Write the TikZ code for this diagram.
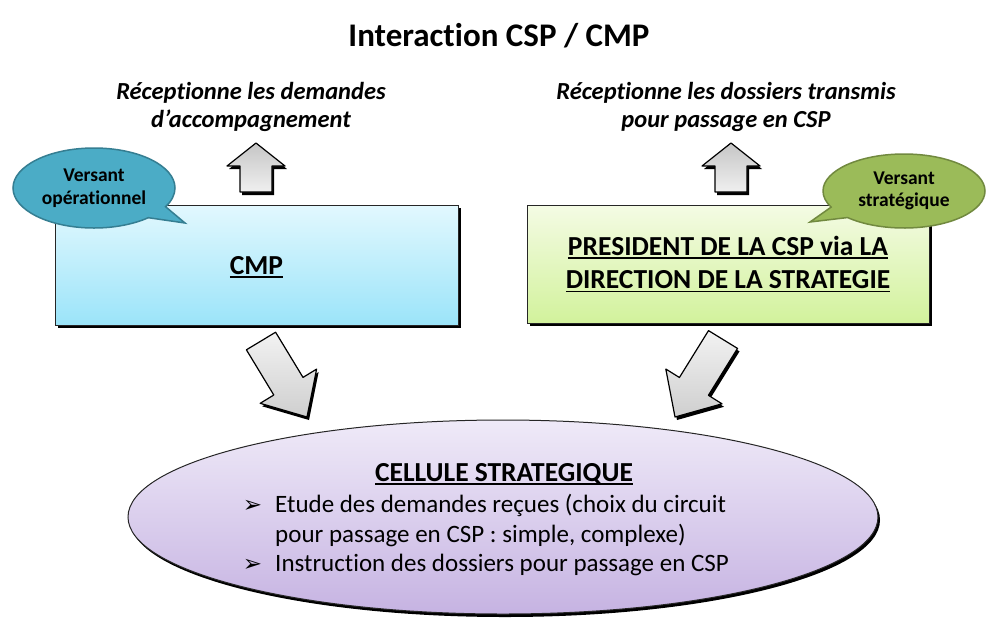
\documentclass[tikz,border=0pt]{standalone}
\usepackage{fontspec}
\setmainfont{Carlito}[Ligatures={NoCommon,NoRare,NoContextual}]
\newfontfamily\dejavu{DejaVu Sans}
\usetikzlibrary{shapes.geometric,shapes.callouts,shadows}
\newcommand\myul[1]{\setbox0\hbox{#1}\rlap{\rule[-3.8pt]{\wd0}{1.5pt}}\box0}
\definecolor{cmpTop}{HTML}{E2F8FE}
\definecolor{cmpBot}{HTML}{9BE4F9}
\definecolor{psTop}{HTML}{F4FBE4}
\definecolor{psBot}{HTML}{D2F29C}
\definecolor{elTop}{HTML}{EFEAF8}
\definecolor{elBot}{HTML}{C6B3E2}
\definecolor{cBlue}{HTML}{4BACC6}
\definecolor{cBlueD}{HTML}{357E92}
\definecolor{cGreen}{HTML}{9BBB59}
\definecolor{cGreenD}{HTML}{71893F}
\begin{document}
\begin{tikzpicture}[x=1pt,y=-1pt,
  shad/.style={drop shadow={shadow xshift=#1,shadow yshift=-3pt,opacity=1,fill=black}},
  shad/.default=3pt,
  ttl/.style={font=\fontsize{33}{40}\selectfont\bfseries, inner sep=0pt},
  recv/.style={font=\fontsize{24.5}{27.5}\selectfont\bfseries\itshape, align=center, inner sep=0pt},
  bx/.style={rectangle, draw=black!85, line width=0.8pt, shad, font=\fontsize{27.5}{33.5}\selectfont\bfseries, align=center, inner sep=0pt},
  bulle/.style={ellipse callout, line width=1.5pt, callout pointer arc=20, inner sep=0pt, font=\fontsize{19.5}{22.5}\selectfont\bfseries, align=center},
  garrow/.style={draw=black, line width=1.2pt, line join=round, shad=2pt},
  itemtxt/.style={font=\fontsize{25}{29.5}\selectfont, inner sep=0pt, align=left},
  bul/.style={font=\dejavu\fontsize{23}{25}\selectfont, inner sep=0pt, anchor=base}
]
\useasboundingbox (0,0) rectangle (1000,622);

% title and captions
\node[ttl, anchor=base] (title) at (499,46) {Interaction CSP / CMP};
\node[recv] (r1) at (251,107) {Réceptionne les demandes\\d’accompagnement};
\node[recv] (r2) at (726,107) {Réceptionne les dossiers transmis\\pour passage en CSP};

% up arrows
\draw[garrow, top color=gray!45, bottom color=gray!12]
  (240,192) -- (240,166) -- (227,166) -- (256,143) -- (285,166) -- (272,166) -- (272,192) -- cycle;
\draw[garrow, top color=gray!45, bottom color=gray!12]
  (715,192) -- (715,166) -- (702,166) -- (731,143) -- (760,166) -- (747,166) -- (747,192) -- cycle;

% boxes
\node[bx, minimum width=403pt, minimum height=120pt, top color=cmpTop, bottom color=cmpBot, text depth=0pt]
  (cmp) at (256.5,265) {\myul{CMP}};
\node[bx, minimum width=402pt, minimum height=118pt, top color=psTop, bottom color=psBot]
  (pres) at (728,264) {\myul{PRESIDENT DE LA CSP via LA}\\\myul{DIRECTION DE LA STRATEGIE}};

% callouts
\node[bulle, fill=cBlue, draw=cBlueD, minimum width=162pt, minimum height=80pt,
  callout absolute pointer={(185,223)}] (vop) at (94,188) {Versant\\opérationnel};
\node[bulle, fill=cGreen, draw=cGreenD, minimum width=162pt, minimum height=74pt,
  callout absolute pointer={(810,222)}] (vst) at (904,191) {Versant\\stratégique};

% diagonal arrows
\draw[garrow, top color=gray!10, bottom color=gray!38]
  (246.4,349.8) -- (273.8,395.0) -- (260.2,403.3) -- (307,417) -- (316.6,369.1) -- (303.0,377.4) -- (275.6,332.2) -- cycle;
\draw[garrow, top color=gray!10, bottom color=gray!38]
  (708.5,330.6) -- (679.4,377.5) -- (665.8,369.0) -- (675,417) -- (722.0,403.8) -- (708.4,395.3) -- (737.5,348.4) -- cycle;

% cellule strategique
\node[ellipse, draw=black!85, line width=1pt, minimum width=750pt, minimum height=194pt,
  top color=elTop, bottom color=elBot, shad=2pt] (cs) at (503,517) {};
\node[font=\fontsize{27.5}{33}\selectfont\bfseries, inner sep=0pt, anchor=base] (cst) at (504,481) {\myul{CELLULE STRATEGIQUE}};
\node[bul] (b1) at (252.5,512) {➢};
\node[itemtxt, anchor=west] (i1) at (275,520.4) {Etude des demandes reçues (choix du circuit\\pour passage en CSP : simple, complexe)};
\node[bul] (b2) at (252.5,571) {➢};
\node[itemtxt, anchor=base west] (i2) at (275,571) {Instruction des dossiers pour passage en CSP};
\end{tikzpicture}
\end{document}
